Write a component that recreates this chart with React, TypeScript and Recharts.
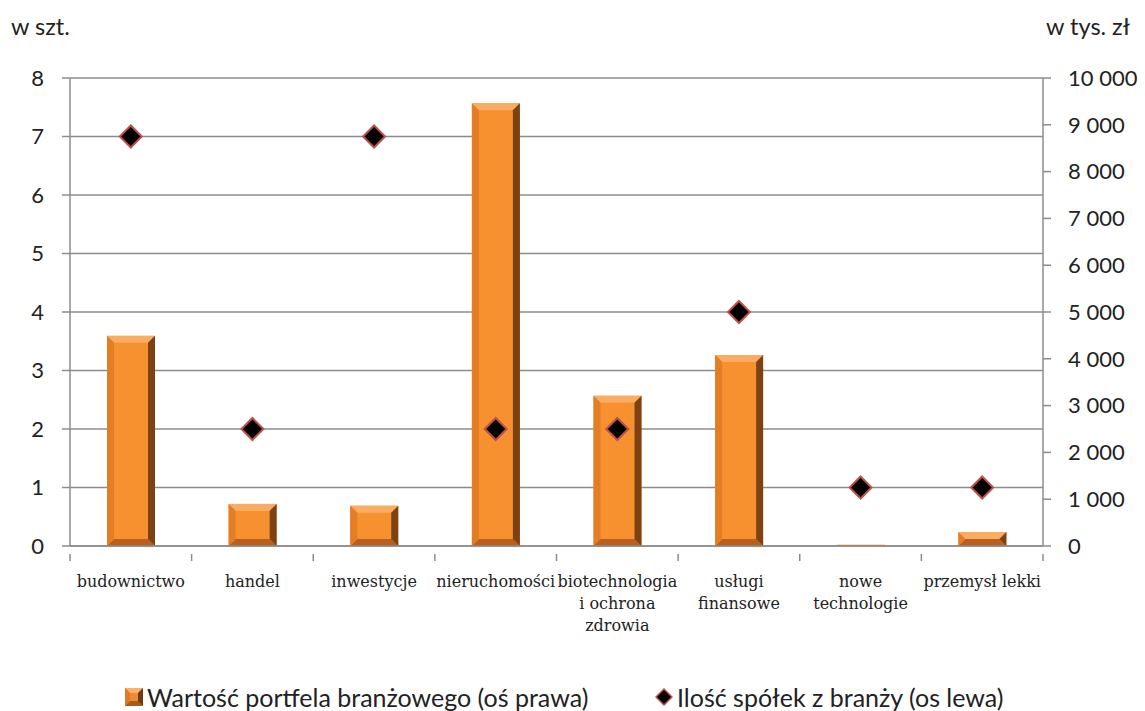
import React from "react";
import { ComposedChart, Bar, Line, XAxis, YAxis, CartesianGrid } from "recharts";

const categories = [
  "budownictwo",
  "handel",
  "inwestycje",
  "nieruchomości",
  "biotechnologia\ni ochrona\nzdrowia",
  "usługi\nfinansowe",
  "nowe\ntechnologie",
  "przemysł lekki",
];
const portfolioValue = [4490, 900, 860, 9460, 3210, 4080, 25, 300];
const companyCount = [7, 2, 7, 2, 2, 4, 1, 1];
const leftTicks = [0, 1, 2, 3, 4, 5, 6, 7, 8];
const rightTicks = [0, 1000, 2000, 3000, 4000, 5000, 6000, 7000, 8000, 9000, 10000];

const data = categories.map((c, i) => ({
  name: c,
  value: portfolioValue[i],
  count: companyCount[i],
}));

const GRID = "#8c8c8c";
const SANS = "Lato, 'Open Sans', sans-serif";
const SERIF = "'DejaVu Serif', serif";

const fmtThousands = (v: number) => String(v).replace(/\B(?=(\d{3})+(?!\d))/g, "\u00a0");

function BevelBar(props: any) {
  const { x, y, width, height } = props;
  if (!height || height <= 0) return null;
  const b = Math.min(7, height / 2, width / 2);
  return (
    <g>
      <rect x={x} y={y} width={width} height={height} fill="#f7902f" />
      <polygon points={`${x},${y} ${x + width},${y} ${x + width - b},${y + b} ${x + b},${y + b}`} fill="#fbac63" />
      <polygon
        points={`${x},${y + height} ${x + width},${y + height} ${x + width - b},${y + height - b} ${x + b},${y + height - b}`}
        fill="#b8601f"
      />
      <polygon points={`${x},${y} ${x + b},${y + b} ${x + b},${y + height - b} ${x},${y + height}`} fill="#e37d26" />
      <polygon
        points={`${x + width},${y} ${x + width - b},${y + b} ${x + width - b},${y + height - b} ${x + width},${y + height}`}
        fill="#7d4214"
      />
    </g>
  );
}

function Diamond(props: any) {
  const { cx, cy } = props;
  if (cx == null || cy == null) return null;
  const r = 11;
  return (
    <polygon
      points={`${cx},${cy - r} ${cx + r},${cy} ${cx},${cy + r} ${cx - r},${cy}`}
      fill="#000"
      stroke="#c0504d"
      strokeWidth={2}
    />
  );
}

const BAND = 973 / categories.length;

function CategoryTick(props: any) {
  const { x, y, payload, index } = props;
  const lines = String(payload.value).split("\n");
  const left = x - BAND / 2;
  return (
    <g>
      <line x1={left} y1={y} x2={left} y2={y + 7} stroke={GRID} strokeWidth={1.5} />
      {index === categories.length - 1 && (
        <line x1={x + BAND / 2} y1={y} x2={x + BAND / 2} y2={y + 7} stroke={GRID} strokeWidth={1.5} />
      )}
      <text x={x} y={y + 33} textAnchor="middle" fontFamily={SERIF} fontSize={16} fill="#222">
        {lines.map((l, i) => (
          <tspan key={i} x={x} dy={i === 0 ? 0 : 22}>
            {l}
          </tspan>
        ))}
      </text>
    </g>
  );
}

function LegendBox() {
  return (
    <div
      style={{
        position: "absolute",
        top: 682,
        left: 0,
        width: 1145,
        fontFamily: SANS,
        fontSize: 25,
        lineHeight: "30px",
        color: "#222",
        whiteSpace: "nowrap",
      }}
    >
      <div style={{ position: "absolute", left: 125, display: "flex", alignItems: "center" }}>
        <svg width={18} height={18} style={{ marginRight: 4 }}>
          <rect x={0} y={0} width={18} height={18} fill="#f08a2c" />
          <polygon points="0,0 18,0 13,5 5,5" fill="#fbb070" />
          <polygon points="0,0 5,5 5,13 0,18" fill="#e07a24" />
          <polygon points="0,18 18,18 13,13 5,13" fill="#a85a1c" />
          <polygon points="18,0 13,5 13,13 18,18" fill="#6e3a10" />
        </svg>
        <span>Wartość portfela branżowego (oś prawa)</span>
      </div>
      <div style={{ position: "absolute", left: 655, display: "flex", alignItems: "center" }}>
        <svg width={18} height={18} style={{ marginRight: 4 }}>
          <polygon points="9,1 17,9 9,17 1,9" fill="#000" stroke="#c0504d" strokeWidth={1.5} />
        </svg>
        <span>Ilość spółek z branży (os lewa)</span>
      </div>
    </div>
  );
}

export default function App() {
  return (
    <div style={{ position: "absolute", left: 0, top: 0, width: 1145, height: 711, background: "#fff" }}>
      <div style={{ position: "absolute", left: 11, top: 12, fontFamily: SANS, fontSize: 23.5, color: "#222" }}>
        w szt.
      </div>
      <div
        style={{
          position: "absolute",
          right: 15,
          top: 12,
          fontFamily: SANS,
          fontSize: 23.5,
          color: "#222",
          whiteSpace: "nowrap",
        }}
      >
        w tys. zł
      </div>
      <ComposedChart
        width={1145}
        height={711}
        data={data}
        margin={{ top: 78, right: 8, bottom: 65, left: 8 }}
        barCategoryGap="30%"
      >
        <CartesianGrid vertical={false} stroke={GRID} strokeWidth={1.5} yAxisId="left" />
        <XAxis
          dataKey="name"
          interval={0}
          tickLine={false}
          axisLine={{ stroke: GRID, strokeWidth: 1.5 }}
          tick={<CategoryTick />}
          height={100}
        />
        <YAxis
          yAxisId="left"
          orientation="left"
          width={62}
          domain={[0, 8]}
          ticks={leftTicks}
          interval={0}
          axisLine={{ stroke: GRID, strokeWidth: 1.5 }}
          tickLine={{ stroke: GRID, strokeWidth: 1.5 }}
          tickSize={8}
          tick={{ fontFamily: SANS, fontSize: 22, fill: "#222" }}
          tickMargin={18}
        />
        <YAxis
          yAxisId="right"
          orientation="right"
          width={94}
          domain={[0, 10000]}
          ticks={rightTicks}
          interval={0}
          axisLine={{ stroke: GRID, strokeWidth: 1.5 }}
          tickLine={{ stroke: GRID, strokeWidth: 1.5 }}
          tickSize={8}
          tickFormatter={fmtThousands}
          tick={{ fontFamily: SANS, fontSize: 22, fill: "#222" }}
          tickMargin={17}
        />
        <Bar yAxisId="right" dataKey="value" barSize={48} shape={<BevelBar />} isAnimationActive={false} />
        <Line
          yAxisId="left"
          dataKey="count"
          stroke="none"
          dot={<Diamond />}
          activeDot={false}
          isAnimationActive={false}
        />
      </ComposedChart>
      <LegendBox />
    </div>
  );
}
